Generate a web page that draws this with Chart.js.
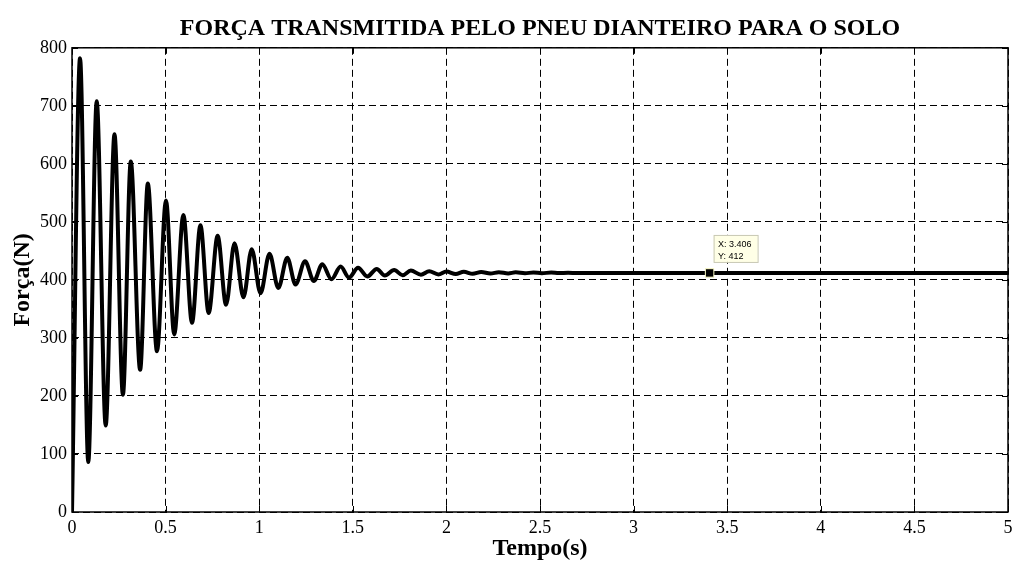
<!DOCTYPE html>
<html>
<head>
<meta charset="utf-8">
<script src="https://cdn.jsdelivr.net/npm/chart.js"></script>
<style>
  html, body { margin: 0; padding: 0; background: #fff; }
  #wrap { width: 1015px; height: 563px; }
</style>
</head>
<body>
<div id="wrap"><canvas id="forceChart" width="1015" height="563"></canvas></div>
<script>
// values (peaks and troughs of the response)
const timeValues = [0, 0.043, 0.087, 0.132, 0.180, 0.227, 0.272, 0.314, 0.364, 0.405, 0.454,
  0.502, 0.546, 0.595, 0.641, 0.686, 0.730, 0.778, 0.823, 0.868, 0.916, 0.960, 1.007,
  1.055, 1.102, 1.150, 1.194, 1.245, 1.292, 1.337, 1.386, 1.435, 1.480, 1.528, 1.578,
  1.628, 1.671, 1.721, 1.766, 1.810, 1.864, 1.908, 1.957, 2.000, 2.050, 2.093, 2.140,
  2.186, 2.235, 2.280, 2.330, 2.370, 2.420, 2.465, 2.510, 2.560, 2.600, 2.650, 2.700,
  2.750, 5.000];
const forceValues = [0, 782, 86, 708, 149, 651, 202, 604, 245, 566, 277,
  537, 306, 512, 326, 494, 343, 476, 357, 463, 370, 453, 377,
  445, 386, 438, 392, 432, 398, 427, 401, 423, 404, 421, 406,
  419, 407.5, 417, 408, 416, 409, 415, 409.5, 414.5, 410, 414, 410.5,
  413.5, 411, 413.3, 411.2, 413, 411.4, 412.8, 411.6, 412.6, 411.7, 412.4, 411.8,
  412, 412];

const xTicks = [0, 0.5, 1, 1.5, 2, 2.5, 3, 3.5, 4, 4.5, 5];
const yTicks = [0, 100, 200, 300, 400, 500, 600, 700, 800];

const tipX = 3.406;
const tipY = 412;

const serif = 'Liberation Serif';

const boxPlugin = {
  id: 'boxPlugin',
  afterDatasetsDraw(chart) {
    const { ctx, chartArea: a, scales } = chart;
    ctx.save();
    ctx.strokeStyle = '#000';
    ctx.lineWidth = 1.5;
    ctx.setLineDash([]);
    ctx.strokeRect(a.left, a.top, a.right - a.left, a.bottom - a.top);
    // inward tick marks
    ctx.lineWidth = 1;
    const len = 6;
    ctx.beginPath();
    xTicks.forEach(v => {
      const x = Math.round(scales.x.getPixelForValue(v)) + 0.5;
      ctx.moveTo(x, a.bottom); ctx.lineTo(x, a.bottom - len);
      ctx.moveTo(x, a.top); ctx.lineTo(x, a.top + len);
    });
    yTicks.forEach(v => {
      const y = Math.round(scales.y.getPixelForValue(v)) + 0.5;
      ctx.moveTo(a.left, y); ctx.lineTo(a.left + len, y);
      ctx.moveTo(a.right, y); ctx.lineTo(a.right - len, y);
    });
    ctx.stroke();
    ctx.restore();
  },
  afterDraw(chart) {
    // data tip label next to the marker
    const pt = chart.getDatasetMeta(0).data[0];
    if (!pt) return;
    const { ctx } = chart;
    const bx = pt.x + 4, by = pt.y - 11 - 27;
    ctx.save();
    ctx.fillStyle = '#ffffe6';
    ctx.strokeStyle = '#c8c8b4';
    ctx.lineWidth = 1;
    ctx.fillRect(bx, by, 44, 27);
    ctx.strokeRect(bx + 0.5, by + 0.5, 44, 27);
    ctx.fillStyle = '#000';
    ctx.font = '9px "Liberation Sans"';
    ctx.textBaseline = 'middle';
    ctx.fillText('X: ' + tipX, bx + 4.5, by + 10);
    ctx.fillText('Y: ' + tipY, bx + 4.5, by + 21.5);
    ctx.restore();
  }
};

new Chart(document.getElementById('forceChart'), {
  type: 'line',
  data: {
    datasets: [
      {
        label: 'tip',
        data: [{ x: tipX, y: tipY }],
        showLine: false,
        pointStyle: 'rect',
        pointRadius: 6,
        backgroundColor: '#000',
        borderColor: '#ffffc8',
        borderWidth: 1,
        order: 1
      },
      {
        label: 'Força',
        data: timeValues.map((t, i) => ({ x: t, y: forceValues[i] })),
        borderColor: '#000',
        borderWidth: 4,
        pointRadius: 0,
        fill: false,
        cubicInterpolationMode: 'monotone',
        borderJoinStyle: 'round',
        borderCapStyle: 'round',
        order: 2
      }
    ]
  },
  options: {
    responsive: false,
    animation: false,
    layout: { padding: { left: 0, right: 7, top: 0, bottom: 0 } },
    plugins: {
      legend: { display: false },
      tooltip: { enabled: false },
      title: {
        display: true,
        text: 'FORÇA TRANSMITIDA PELO PNEU DIANTEIRO PARA O SOLO',
        fullSize: false,
        color: '#000',
        font: { family: serif, size: 24, weight: 'bold', lineHeight: 1.2 },
        padding: { top: 14, bottom: 5 }
      }
    },
    scales: {
      x: {
        type: 'linear',
        min: 0,
        max: 5,
        afterFit: s => { s.height = 51; s.paddingLeft = 0; s.paddingRight = 0; },
        afterBuildTicks: s => { s.ticks = xTicks.map(v => ({ value: v })); },
        ticks: {
          color: '#000',
          padding: 5,
          maxRotation: 0,
          font: { family: serif, size: 18 },
          callback: v => String(v)
        },
        grid: { color: '#000', lineWidth: 1, drawTicks: false },
        border: { display: false, dash: [7, 4] },
        title: {
          display: true,
          text: 'Tempo(s)',
          color: '#000',
          font: { family: serif, size: 24, weight: 'bold', lineHeight: 1.2 },
          padding: { top: 0, bottom: 0 }
        }
      },
      y: {
        min: 0,
        max: 800,
        afterFit: s => { s.width = 72; },
        afterBuildTicks: s => { s.ticks = yTicks.map(v => ({ value: v })); },
        ticks: {
          color: '#000',
          padding: 5,
          font: { family: serif, size: 18 },
          callback: v => String(v)
        },
        grid: { color: '#000', lineWidth: 1, drawTicks: false },
        border: { display: false, dash: [7, 4] },
        title: {
          display: true,
          text: 'Força(N)',
          color: '#000',
          font: { family: serif, size: 24, weight: 'bold', lineHeight: 1.2 },
          padding: { top: 8, bottom: 0 }
        }
      }
    }
  },
  plugins: [boxPlugin]
});
</script>
</body>
</html>
